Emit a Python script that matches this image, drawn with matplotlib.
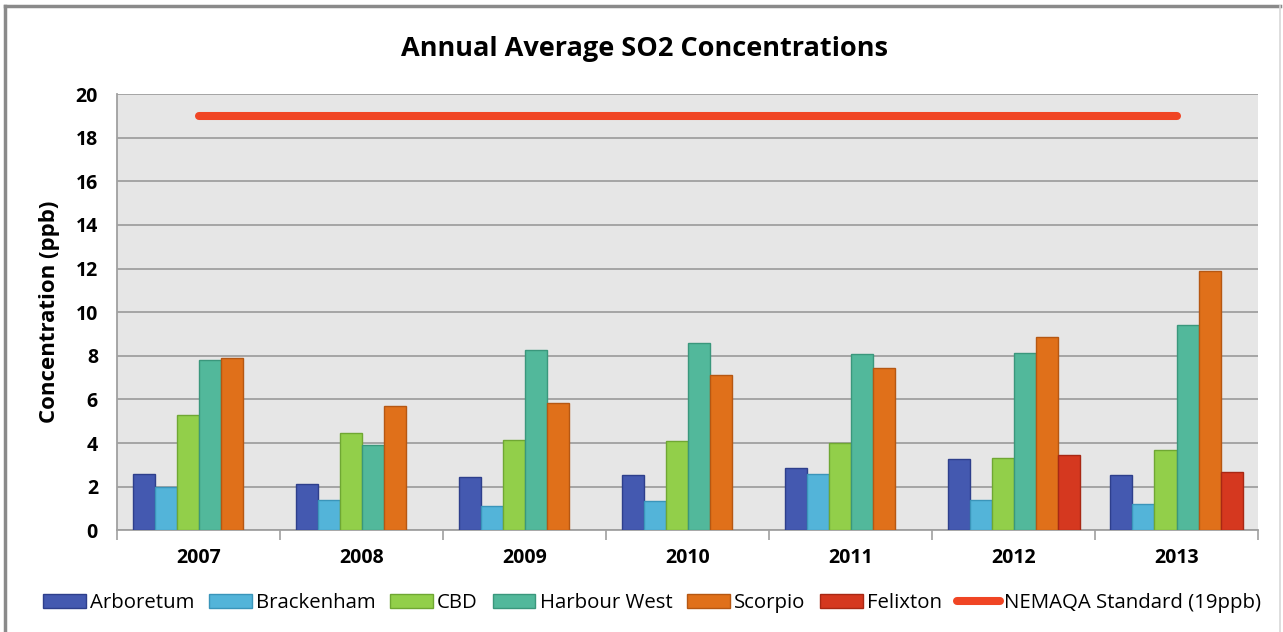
import matplotlib.pyplot as plt
import numpy as np
from matplotlib.lines import Line2D

plt.rcParams['font.family'] = ['Open Sans', 'DejaVu Sans']

years = ['2007', '2008', '2009', '2010', '2011', '2012', '2013']
arboretum = [2.6, 2.1, 2.45, 2.55, 2.85, 3.25, 2.55]
brackenham = [2.0, 1.4, 1.1, 1.35, 2.6, 1.4, 1.2]
cbd = [5.3, 4.45, 4.15, 4.1, 4.0, 3.3, 3.7]
harbour_west = [7.8, 3.9, 8.25, 8.6, 8.1, 8.15, 9.4]
scorpio = [7.9, 5.7, 5.85, 7.1, 7.45, 8.85, 11.9]
felixton = [np.nan, np.nan, np.nan, np.nan, np.nan, 3.45, 2.65]
standard = 19

series = [
    ('Arboretum', arboretum, '#4459B0', '#2E3F8C'),
    ('Brackenham', brackenham, '#53B4D9', '#3A95BA'),
    ('CBD', cbd, '#92CF4A', '#6FA733'),
    ('Harbour West', harbour_west, '#52B89B', '#3A977C'),
    ('Scorpio', scorpio, '#E0701A', '#B65712'),
    ('Felixton', felixton, '#D5381F', '#A82814'),
]

fig = plt.figure(figsize=(12.83, 6.32), dpi=100)
ax = fig.add_axes([0.0915, 0.161, 0.889, 0.690])
ax.set_facecolor('#E6E6E6')

x = np.arange(len(years))
w = 1 / 7.4
for i, (name, vals, col, ec) in enumerate(series):
    ax.bar(x + (i - 2.5) * w, vals, width=w, color=col, edgecolor=ec,
           linewidth=1, label=name, zorder=3)

ax.plot([x[0], x[-1]], [standard, standard], color='#F04524', linewidth=5.8,
        solid_capstyle='round', zorder=4)

ax.set_xlim(-0.5, len(years) - 0.5)
ax.set_ylim(0, 20)
ax.set_yticks(range(0, 21, 2))
ax.yaxis.grid(True, color='#A0A0A0', linewidth=1.3, zorder=0)
ax.set_axisbelow(True)
ax.tick_params(axis='y', length=0, pad=14, labelsize=14)
for lab in ax.get_yticklabels():
    lab.set_fontweight('bold')

ax.set_xticks(x)
ax.set_xticklabels(years, fontweight='bold', fontsize=14)
ax.set_xticks(np.arange(-0.5, len(years)), minor=True)
ax.tick_params(axis='x', which='major', length=0, pad=13)
ax.tick_params(axis='x', which='minor', length=7, color='#A0A0A0', width=1.2)

for s in ['top', 'right']:
    ax.spines[s].set_visible(False)
for s in ['left', 'bottom']:
    ax.spines[s].set_color('#A0A0A0')
    ax.spines[s].set_linewidth(1.3)

ax.set_ylabel('Concentration (ppb)', fontweight='bold', fontsize=16)
ax.yaxis.set_label_coords(-0.050, 0.5)
fig.text(0.502, 0.922, 'Annual Average SO2 Concentrations', ha='center', va='center',
         fontsize=19.5, fontweight='bold')

handles, labels = ax.get_legend_handles_labels()
handles.append(Line2D([0], [0], color='#F04524', linewidth=5.8, solid_capstyle='round'))
labels.append('NEMAQA Standard (19ppb)')
fig.legend(handles, labels, loc='center', bbox_to_anchor=(0.508, 0.046), ncol=7,
           frameon=False, fontsize=14.7, handlelength=2.1, handleheight=0.65,
           handletextpad=0.2, columnspacing=0.72)

# outer chart frame
fig.add_artist(Line2D([0.004, 0.004], [0, 0.99], transform=fig.transFigure,
                      color='#8A8A8A', linewidth=2.5))
fig.add_artist(Line2D([0.004, 0.998], [0.99, 0.99], transform=fig.transFigure,
                      color='#8A8A8A', linewidth=2.5))
fig.add_artist(Line2D([0.998, 0.998], [0, 0.99], transform=fig.transFigure,
                      color='#D8D8D8', linewidth=1.2))

fig.savefig('out.png', dpi=100)
